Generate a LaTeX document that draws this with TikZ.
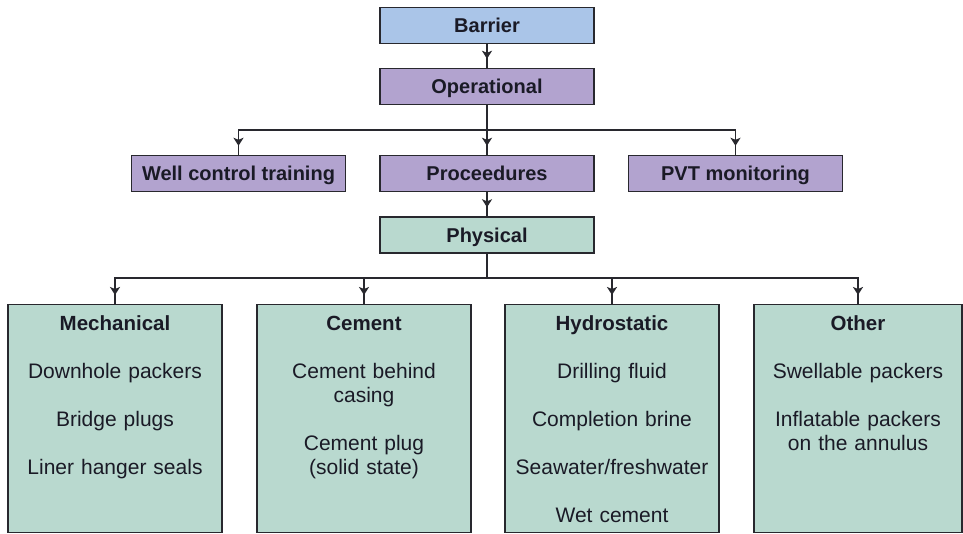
\documentclass[tikz,border=0pt]{standalone}
\usepackage{fontspec}
\setmainfont{Liberation Sans}
\usetikzlibrary{arrows.meta,decorations.markings}

\definecolor{barrierblue}{RGB}{170,197,232}
\definecolor{oppurple}{RGB}{178,163,207}
\definecolor{physgreen}{RGB}{185,217,207}
\definecolor{edgegray}{RGB}{40,40,46}
\definecolor{inkdark}{RGB}{26,26,38}

% box contents: bold heading followed by the listed items, top aligned
\newcommand\catlist[1]{\parbox[c][228pt][t]{\linewidth}{\centering\vspace*{9pt}#1}}
\newcommand\cathead[1]{\strut{\fontsize{20.5}{24}\selectfont\bfseries #1}}

\begin{document}
\begin{tikzpicture}[x=1pt,y=-1pt,
  topbox/.style={draw=edgegray, line width=1.4pt, minimum width=214pt,
    minimum height=36pt, inner sep=0pt, text height=14.5pt, text depth=0pt,
    font=\fontsize{20}{24}\selectfont\bfseries, text=inkdark},
  catbox/.style={draw=edgegray, line width=1.4pt, fill=physgreen,
    anchor=north, inner sep=0pt, text width=#1,
    font=\fontsize{21}{24}\selectfont, text=inkdark},
  catbox/.default=214pt,
  link/.style={draw=edgegray, line width=1.7pt},
  conn/.style={link, postaction={decorate}, decoration={markings,
    mark=at position -9pt with {\arrow{Stealth[length=8pt,width=10pt,inset=2pt]}}}},
]
\useasboundingbox[fill=white] (0,0) rectangle (963,534);

% operational layer
\node[topbox, fill=barrierblue] (barrier) at (487,25.5) {Barrier};
\node[topbox, fill=oppurple] (oper) at (487,86.5) {Operational};
\node[topbox, fill=oppurple] (well) at (238.5,173.5) {Well control training};
\node[topbox, fill=oppurple] (proc) at (487,173.5) {Proceedures};
\node[topbox, fill=oppurple] (pvt) at (735.5,173.5) {PVT monitoring};
\node[topbox, fill=physgreen] (phys) at (487,235) {Physical};

% physical barrier categories
\node[catbox] (mech) at (115,304) {\catlist{\cathead{Mechanical}\\[24pt]
  Downhole packers\\[24pt] Bridge plugs\\[24pt] Liner hanger seals}};
\node[catbox] (cem) at (364,304) {\catlist{\cathead{Cement}\\[24pt]
  Cement behind\\ casing\\[24pt] Cement plug\\ (solid state)}};
\node[catbox] (hydro) at (612,304) {\catlist{\cathead{Hydrostatic}\\[24pt]
  Drilling fluid\\[24pt] Completion brine\\[24pt] Seawater/freshwater\\[24pt] Wet cement}};
\node[catbox=208pt] (other) at (858,304) {\catlist{\cathead{Other}\\[24pt]
  Swellable packers\\[24pt] Inflatable packers\\ on the annulus}};

% connectors
\coordinate (bus1) at (487,130);
\coordinate (bus2) at (487,278);
\draw[conn] (barrier) -- (oper);
\draw[conn] (oper) -- (proc);
\draw[conn] (bus1) -| (well.north);
\draw[conn] (bus1) -| (pvt.north);
\draw[conn] (proc) -- (phys);
\draw[link] (phys) -- (bus2);
\draw[conn] (bus2) -| (mech.north);
\draw[conn] (bus2) -| (cem.north);
\draw[conn] (bus2) -| (hydro.north);
\draw[conn] (bus2) -| (other.north);
\end{tikzpicture}
\end{document}
